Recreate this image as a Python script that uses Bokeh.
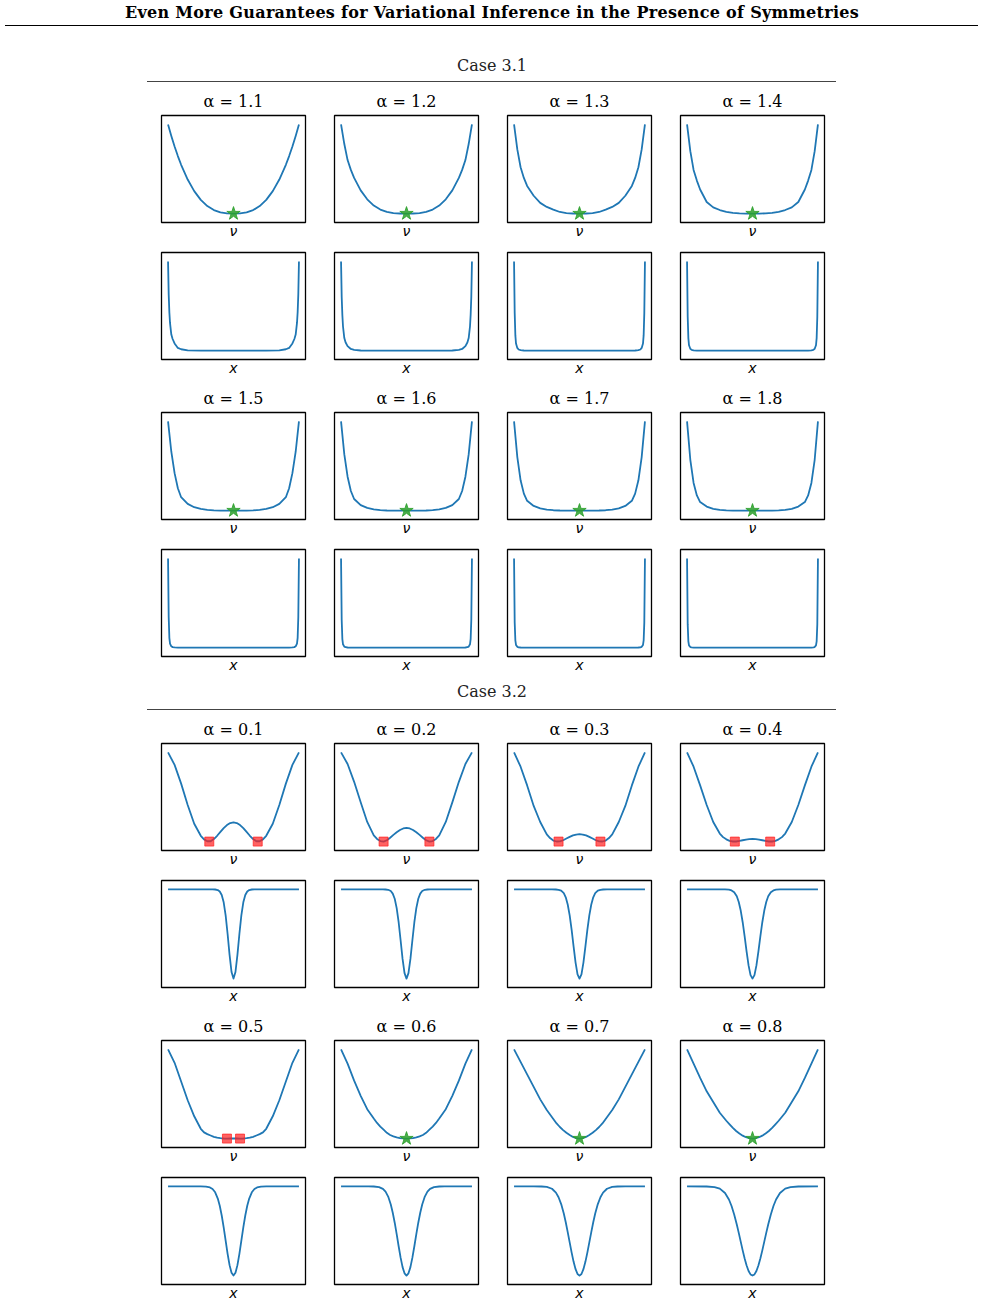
from bokeh.plotting import figure
from bokeh.layouts import column, row, Spacer
from bokeh.models import Div, Range1d, FixedTicker
from bokeh.embed import file_html
from bokeh.resources import INLINE

TITLE = "Even More Guarantees for Variational Inference in the Presence of Symmetries"
CASE_TITLES = ["Case 3.1", "Case 3.2"]

# ---------------- Case 3.1 ----------------
case31_alphas = ["1.1", "1.2", "1.3", "1.4", "1.5", "1.6", "1.7", "1.8"]

# half curves (symmetric about 0), normalised height: 0 = minimum, 1 = maximum
nu31_x = [0, 0.1, 0.2, 0.3, 0.4, 0.5, 0.6, 0.7, 0.8, 0.85, 0.9, 0.95, 1.0]
nu31_y = [
    [0, 0.002, 0.013, 0.039, 0.084, 0.154, 0.252, 0.382, 0.547, 0.645, 0.752, 0.871, 1.0],
    [0, 0.001, 0.006, 0.020, 0.045, 0.090, 0.160, 0.260, 0.400, 0.490, 0.600, 0.780, 1.0],
    [0, 0.001, 0.006, 0.018, 0.045, 0.075, 0.120, 0.200, 0.310, 0.400, 0.520, 0.720, 1.0],
    [0, 0.000, 0.002, 0.008, 0.020, 0.040, 0.070, 0.130, 0.270, 0.370, 0.490, 0.700, 1.0],
    [0, 0.000, 0.000, 0.002, 0.008, 0.018, 0.038, 0.075, 0.150, 0.250, 0.420, 0.660, 1.0],
    [0, 0.000, 0.000, 0.001, 0.005, 0.013, 0.030, 0.062, 0.130, 0.220, 0.380, 0.630, 1.0],
    [0, 0.000, 0.000, 0.001, 0.004, 0.010, 0.024, 0.052, 0.110, 0.190, 0.340, 0.600, 1.0],
    [0, 0.000, 0.000, 0.000, 0.003, 0.008, 0.020, 0.045, 0.095, 0.170, 0.310, 0.570, 1.0],
]
x31_x = [0, 0.5, 0.7, 0.8, 0.85, 0.9, 0.93, 0.95, 0.97, 0.98, 0.99, 1.0]
x31_y = [
    [0, 0, 0.003, 0.015, 0.030, 0.080, 0.130, 0.180, 0.310, 0.430, 0.630, 1.0],
    [0, 0, 0.001, 0.008, 0.018, 0.050, 0.090, 0.140, 0.270, 0.400, 0.600, 1.0],
    [0, 0, 0.000, 0.000, 0.001, 0.005, 0.012, 0.030, 0.080, 0.170, 0.420, 1.0],
    [0, 0, 0.000, 0.000, 0.000, 0.003, 0.008, 0.020, 0.060, 0.140, 0.380, 1.0],
    [0, 0, 0.000, 0.000, 0.000, 0.002, 0.005, 0.014, 0.045, 0.110, 0.340, 1.0],
    [0, 0, 0.000, 0.000, 0.000, 0.001, 0.004, 0.011, 0.037, 0.095, 0.310, 1.0],
    [0, 0, 0.000, 0.000, 0.000, 0.001, 0.003, 0.008, 0.030, 0.080, 0.280, 1.0],
    [0, 0, 0.000, 0.000, 0.000, 0.000, 0.002, 0.006, 0.025, 0.070, 0.260, 1.0],
]
case31_min = [0, 0, 0, 0, 0, 0, 0, 0]
case31_kind = ["star"] * 8

# ---------------- Case 3.2 ----------------
case32_alphas = ["0.1", "0.2", "0.3", "0.4", "0.5", "0.6", "0.7", "0.8"]
nu32_x = [0, 0.05, 0.1, 0.15, 0.2, 0.25, 0.3, 0.35, 0.4, 0.45, 0.5, 0.6, 0.7, 0.8, 0.9, 1.0]
nu32_y = [
    [0.216, 0.208, 0.185, 0.150, 0.108, 0.065, 0.028, 0.004, 0.004, 0.025, 0.065, 0.20, 0.41, 0.65, 0.86, 1.0],
    [0.153, 0.147, 0.130, 0.105, 0.075, 0.043, 0.015, 0.000, 0.006, 0.030, 0.070, 0.22, 0.44, 0.67, 0.87, 1.0],
    [0.083, 0.079, 0.069, 0.053, 0.034, 0.015, 0.003, 0.001, 0.012, 0.040, 0.080, 0.22, 0.40, 0.63, 0.84, 1.0],
    [0.030, 0.028, 0.023, 0.015, 0.007, 0.001, 0.001, 0.008, 0.025, 0.050, 0.090, 0.22, 0.41, 0.63, 0.84, 1.0],
    [0.002, 0.001, 0.000, 0.001, 0.004, 0.010, 0.020, 0.035, 0.050, 0.070, 0.110, 0.25, 0.43, 0.64, 0.85, 1.0],
    [0.000, 0.002, 0.006, 0.014, 0.025, 0.040, 0.065, 0.100, 0.135, 0.175, 0.225, 0.33, 0.48, 0.65, 0.84, 1.0],
    [0.000, 0.005, 0.018, 0.040, 0.065, 0.095, 0.130, 0.170, 0.220, 0.270, 0.320, 0.44, 0.58, 0.72, 0.86, 1.0],
    [0.000, 0.004, 0.015, 0.033, 0.057, 0.085, 0.120, 0.160, 0.200, 0.245, 0.290, 0.41, 0.53, 0.68, 0.84, 1.0],
]
x32_x = [0, 0.03, 0.06, 0.09, 0.12, 0.15, 0.18, 0.21, 0.24, 0.28, 0.32, 0.36, 0.42, 0.5, 0.58, 0.7, 1.0]
x32_y = [
    [0, 0.074, 0.266, 0.500, 0.709, 0.855, 0.938, 0.977, 0.993, 0.999, 1.000, 1.000, 1.000, 1.000, 1.000, 1.000, 1.0],
    [0, 0.061, 0.221, 0.430, 0.632, 0.790, 0.895, 0.953, 0.982, 0.996, 0.999, 1.000, 1.000, 1.000, 1.000, 1.000, 1.0],
    [0, 0.048, 0.180, 0.359, 0.546, 0.709, 0.831, 0.911, 0.958, 0.986, 0.996, 0.999, 1.000, 1.000, 1.000, 1.000, 1.0],
    [0, 0.039, 0.148, 0.302, 0.473, 0.632, 0.763, 0.859, 0.923, 0.969, 0.989, 0.997, 1.000, 1.000, 1.000, 1.000, 1.0],
    [0, 0.031, 0.117, 0.244, 0.392, 0.541, 0.674, 0.783, 0.864, 0.934, 0.971, 0.989, 0.998, 1.000, 1.000, 1.000, 1.0],
    [0, 0.025, 0.095, 0.201, 0.329, 0.464, 0.593, 0.705, 0.797, 0.886, 0.941, 0.972, 0.992, 0.999, 1.000, 1.000, 1.0],
    [0, 0.018, 0.072, 0.154, 0.258, 0.372, 0.488, 0.598, 0.696, 0.802, 0.879, 0.931, 0.974, 0.994, 0.999, 1.000, 1.0],
    [0, 0.013, 0.052, 0.113, 0.192, 0.283, 0.381, 0.479, 0.573, 0.686, 0.780, 0.853, 0.926, 0.975, 0.993, 0.999, 1.0],
]
case32_min = [0.37, 0.35, 0.32, 0.27, 0.10, 0, 0, 0]
case32_kind = ["square"] * 5 + ["star"] * 3

LINE_COLOR = "#1f77b4"
STAR_COLOR = "#2ca02c"
SQUARE_COLOR = "#ff2020"


def mirror(xh, yh):
    xs = [-v for v in xh[:0:-1]] + list(xh)
    ys = list(yh[:0:-1]) + list(yh)
    return xs, ys


def panel(xh, yh, label, title=None, top=10, bottom=20, kind=None, xmin=0.0):
    p = figure(
        frame_width=144, frame_height=107,
        min_border_left=14, min_border_right=15,
        min_border_top=top, min_border_bottom=bottom,
        x_range=Range1d(-1.1, 1.1), y_range=Range1d(-0.1, 1.1),
        toolbar_location=None, tools="", output_backend="svg",
        y_axis_location=None, title=title,
        background_fill_color="white", border_fill_color="white",
    )
    p.xgrid.visible = False
    p.ygrid.visible = False
    p.outline_line_color = "black"
    p.outline_line_width = 1.3
    p.outline_line_alpha = 1.0
    ax = p.xaxis[0]
    ax.ticker = FixedTicker(ticks=[])
    ax.axis_line_color = None
    ax.major_tick_out = 0
    ax.major_tick_in = 0
    ax.minor_tick_out = 0
    ax.minor_tick_in = 0
    ax.major_label_standoff = 0
    ax.axis_label = label
    ax.axis_label_standoff = 0
    ax.axis_label_text_font = "DejaVu Sans"
    ax.axis_label_text_font_style = "italic"
    ax.axis_label_text_font_size = "14px"
    ax.axis_label_text_color = "black"
    if title is not None:
        p.title.align = "center"
        p.title.text_font = "DejaVu Serif"
        p.title.text_font_style = "normal"
        p.title.text_font_size = "16px"
        p.title.text_color = "black"
        p.title.standoff = 9
    xs, ys = mirror(xh, yh)
    p.line(xs, ys, line_color=LINE_COLOR, line_width=1.8, line_join="round")
    if kind == "star":
        p.scatter([xmin], [0], marker="star", size=14, fill_color=STAR_COLOR,
                  line_color=STAR_COLOR, fill_alpha=0.85, line_alpha=0.85)
    elif kind == "square":
        p.scatter([-xmin, xmin], [0, 0], marker="square", size=9, fill_color=SQUARE_COLOR,
                  line_color=SQUARE_COLOR, fill_alpha=0.7, line_alpha=0.7)
    return p


def header(text, top):
    html = (
        '<div style="position:relative;width:984px;height:34px;">'
        '<div style="position:absolute;left:0;top:' + str(top) + 'px;width:984px;text-align:center;'
        "font-family:'DejaVu Serif';font-size:16px;line-height:18px;color:#222;\">"
        + text +
        '</div><div style="position:absolute;left:147px;top:33px;width:689px;height:0;'
        'border-top:1px solid #444;"></div></div>'
    )
    return Div(text=html, width=984, height=34, margin=(0, 0, 0, 0))


title_html = (
    '<div style="position:relative;width:984px;height:48px;">'
    '<div style="position:absolute;left:0;top:4px;width:984px;text-align:center;'
    "font-family:'DejaVu Serif';font-weight:bold;font-size:16px;letter-spacing:0.3px;"
    'line-height:18px;color:#000;">'
    + TITLE +
    '</div><div style="position:absolute;left:5px;top:25px;width:973px;height:0;'
    'border-top:1px solid #000;"></div></div>'
)
title_div = Div(text=title_html, width=984, height=48, margin=(0, 0, 0, 0))


def case_rows(alphas, nux, nuy, xx, xy, mins, kinds, last_bottom=20):
    rows = []
    for half in range(2):
        idx = list(range(half * 4, half * 4 + 4))
        top_figs = [panel(nux, nuy[i], "ν", title="α = " + alphas[i], top=33, bottom=20,
                          kind=kinds[i], xmin=mins[i]) for i in idx]
        b = last_bottom if half == 1 else 20
        bot_figs = [panel(xx, xy[i], "x", top=10, bottom=b) for i in idx]
        rows.append(row(Spacer(width=147, height=160), *top_figs, spacing=0))
        rows.append(row(Spacer(width=147, height=10 + 107 + b), *bot_figs, spacing=0))
    return rows


items = [title_div, header(CASE_TITLES[0], 9)]
items += case_rows(case31_alphas, nu31_x, nu31_y, x31_x, x31_y, case31_min, case31_kind)
items.append(header(CASE_TITLES[1], 7))
items += case_rows(case32_alphas, nu32_x, nu32_y, x32_x, x32_y, case32_min, case32_kind, last_bottom=19)

p = column(*items, spacing=0)

open("out.html", "w").write(file_html(p, INLINE))
